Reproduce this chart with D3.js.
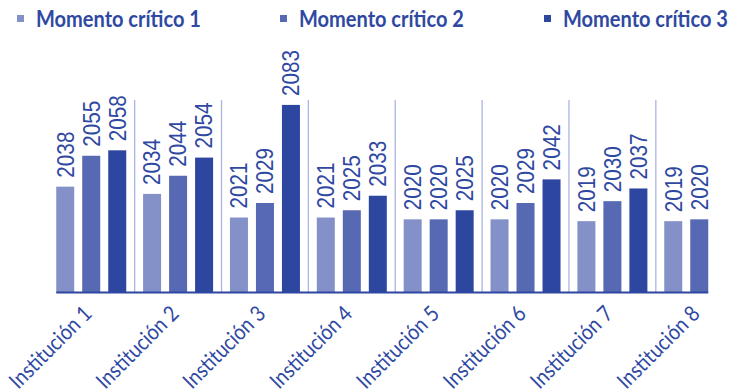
<!DOCTYPE html>
<html>
<head>
<meta charset="utf-8">
<script src="https://cdn.jsdelivr.net/npm/d3@7"></script>
<style>
  html, body { margin: 0; padding: 0; background: #ffffff; }
  svg { display: block; }
</style>
</head>
<body>
<svg id="chart" width="730" height="392"></svg>
<script>
// Categories, series and values
const categories = ["Institución 1", "Institución 2", "Institución 3", "Institución 4",
                    "Institución 5", "Institución 6", "Institución 7", "Institución 8"];
const seriesNames = ["Momento crítico 1", "Momento crítico 2", "Momento crítico 3"];
const momento1 = [2038, 2034, 2021, 2021, 2020, 2020, 2019, 2019];
const momento2 = [2055, 2044, 2029, 2025, 2020, 2029, 2030, 2020];
const momento3 = [2058, 2054, 2083, 2033, 2025, 2042, 2037, null];
const seriesColors = ["#8391c8", "#5769b2", "#2d46a0"];

const seriesValues = [momento1, momento2, momento3];
const rows = [];
categories.forEach((c, i) => {
  seriesNames.forEach((s, j) => {
    const v = seriesValues[j][i];
    if (v != null) rows.push({ cat: c, series: s, value: v, si: j });
  });
});

const svg = d3.select("#chart");
const textColor = "#2f49a2";

// Scales
const x = d3.scaleBand().domain(categories).range([47.8, 47.8 + 86.86 * categories.length]);
const xSub = d3.scaleBand().domain(seriesNames).range([0, x.bandwidth()])
  .paddingInner(0.3077).paddingOuter(0.324);
const y = d3.scaleLinear().domain([1980, 2085.7]).range([292, 100]);

const plotTop = y.range()[1];
const baseY = y.range()[0];

// Category separators
svg.append("g").selectAll("line")
  .data(categories.slice(1))
  .join("line")
  .attr("x1", d => x(d)).attr("x2", d => x(d))
  .attr("y1", plotTop).attr("y2", baseY)
  .attr("stroke", "#aab5e2").attr("stroke-width", 1.3);

// Bars
svg.append("g").selectAll("rect")
  .data(rows)
  .join("rect")
  .attr("x", d => x(d.cat) + xSub(d.series))
  .attr("y", d => y(d.value))
  .attr("width", xSub.bandwidth())
  .attr("height", d => baseY - y(d.value))
  .attr("fill", d => seriesColors[d.si]);

// Value labels, rotated above each bar
svg.append("g").selectAll("text")
  .data(rows)
  .join("text")
  .attr("transform", d => {
    const cx = x(d.cat) + xSub(d.series) + xSub.bandwidth() / 2;
    return `translate(${cx},${y(d.value) - 9}) rotate(-90) scale(0.9,1)`;
  })
  .attr("dy", "0.36em")
  .attr("font-family", "'Liberation Sans', Arial, sans-serif")
  .attr("font-size", 23)
  .attr("fill", textColor)
  .text(d => d.value);

// Baseline spanning the drawn bars
const firstRow = rows[0], lastRow = rows[rows.length - 1];
svg.append("line")
  .attr("x1", x(firstRow.cat) + xSub(firstRow.series))
  .attr("x2", x(lastRow.cat) + xSub(lastRow.series) + xSub.bandwidth())
  .attr("y1", baseY + 0.5).attr("y2", baseY + 0.5)
  .attr("stroke", "#2d46a0").attr("stroke-width", 1.8);

// Category labels (condensed, slanted 45°)
svg.append("g").selectAll("text")
  .data(categories)
  .join("text")
  .attr("transform", d => `translate(${x(d) + x.bandwidth() / 2 + 2},${baseY + 23}) rotate(-45) scale(0.88,1)`)
  .attr("text-anchor", "end")
  .attr("font-family", "Lato, 'Open Sans', sans-serif")
  .attr("font-size", 22)
  .attr("fill", textColor)
  .text(d => d);

// Legend
const legendX = [17, 280, 544];
const legend = svg.append("g").selectAll("g")
  .data(seriesNames)
  .join("g")
  .attr("transform", (d, i) => `translate(${legendX[i]},0)`);
legend.append("rect")
  .attr("x", 0).attr("y", 15).attr("width", 7).attr("height", 7)
  .attr("fill", (d, i) => seriesColors[i]);
legend.append("text")
  .attr("transform", "translate(19,27) scale(0.91,1)")
  .attr("font-family", "Lato, 'Open Sans', sans-serif")
  .attr("font-weight", 700)
  .attr("font-size", 22)
  .attr("fill", textColor)
  .text(d => d);
</script>
</body>
</html>
